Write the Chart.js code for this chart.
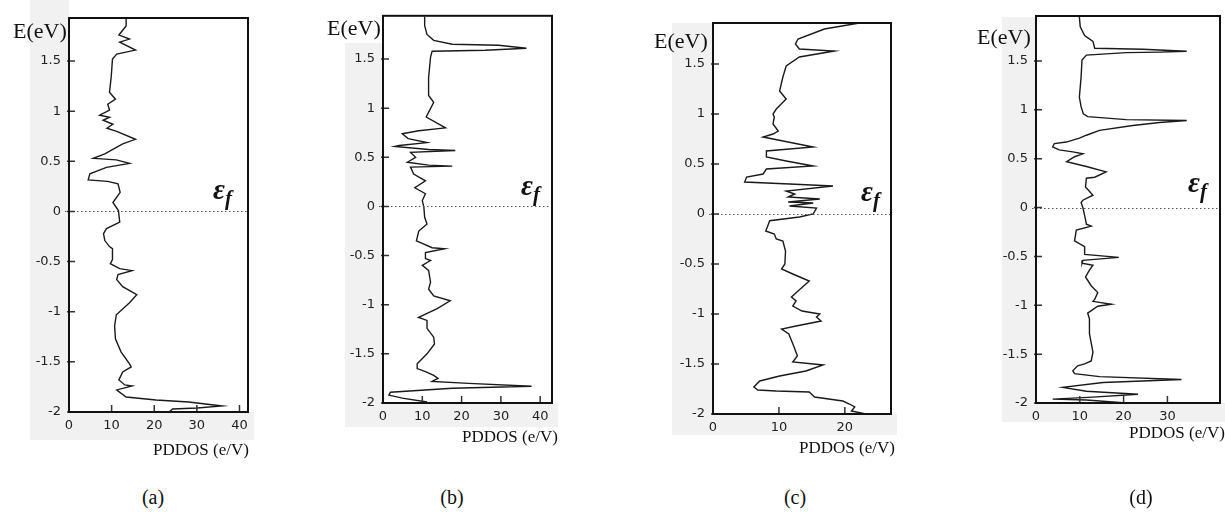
<!DOCTYPE html>
<html lang="en">
<head>
<meta charset="UTF-8">
<title>PDDOS panels</title>
<script src="https://cdn.jsdelivr.net/npm/chart.js"></script>
<style>
  body { margin: 0; background: #fff; }
  #page { position: relative; width: 1225px; height: 513px; overflow: hidden; font-family: "Liberation Serif", "DejaVu Serif", serif; color: #111; }
  .col { position: absolute; top: 0; }
  .txt { position: absolute; white-space: nowrap; line-height: 1; }
  .elabel { font-size: 22px; }
  .xlabel { font-size: 17px; }
  .tag { font-size: 20px; transform: translateX(-50%); }
  .ef { font-size: 29px; font-weight: bold; font-style: italic; }
  .ef span { font-size: 21px; position: relative; top: 6px; }
</style>
</head>
<body>
<div id="page">
  <div class="col" style="left:0px"><canvas id="chartA" width="310" height="470"></canvas></div>
  <div class="col" style="left:310px"><canvas id="chartB" width="320" height="470"></canvas></div>
  <div class="col" style="left:630px"><canvas id="chartC" width="320" height="470"></canvas></div>
  <div class="col" style="left:950px"><canvas id="chartD" width="275" height="470"></canvas></div>

  <div class="txt elabel" style="left:13px;top:20px">E(eV)</div>
  <div class="txt elabel" style="left:327px;top:17px">E(eV)</div>
  <div class="txt elabel" style="left:654px;top:30px">E(eV)</div>
  <div class="txt elabel" style="left:977px;top:26px">E(eV)</div>

  <div class="txt ef" style="left:213px;top:175px">ε<span>f</span></div>
  <div class="txt ef" style="left:521px;top:171px">ε<span>f</span></div>
  <div class="txt ef" style="left:861px;top:177px">ε<span>f</span></div>
  <div class="txt ef" style="left:1188px;top:168px">ε<span>f</span></div>

  <div class="txt xlabel" style="left:153px;top:441px">PDDOS (e/V)</div>
  <div class="txt xlabel" style="left:462px;top:428px">PDDOS (e/V)</div>
  <div class="txt xlabel" style="left:799px;top:439px">PDDOS (e/V)</div>
  <div class="txt xlabel" style="left:1129px;top:424px">PDDOS (e/V)</div>

  <div class="txt tag" style="left:153px;top:487px">(a)</div>
  <div class="txt tag" style="left:452px;top:487px">(b)</div>
  <div class="txt tag" style="left:795px;top:487px">(c)</div>
  <div class="txt tag" style="left:1141px;top:487px">(d)</div>
</div>

<script>
// energy (eV) and partial DOS (e/V), top to bottom
const energyA = [1.93, 1.85, 1.76, 1.72, 1.69, 1.61, 1.57, 1.52, 1.34, 1.19, 1.12, 1.07, 1.01, 0.96, 0.94, 0.91, 0.87, 0.83, 0.80, 0.72, 0.675, 0.575, 0.53, 0.515, 0.48, 0.44, 0.375, 0.315, 0.30, 0.275, 0.19, 0.09, 0.01, -0.105, -0.17, -0.22, -0.29, -0.35, -0.37, -0.48, -0.52, -0.57, -0.59, -0.63, -0.68, -0.75, -0.83, -0.91, -1.03, -1.14, -1.27, -1.40, -1.52, -1.55, -1.60, -1.68, -1.73, -1.74, -1.78, -1.85, -1.88, -1.90, -1.92, -1.94, -1.96, -1.97, -2.0];
const dosA = [13.4, 13.4, 11.7, 14.2, 11.9, 15.6, 11.2, 10.2, 9.9, 9.5, 10.9, 9.1, 9.5, 7.2, 9.5, 8.0, 10.3, 8.9, 11.2, 15.6, 12.6, 8.4, 5.7, 11.1, 14.2, 8.8, 4.9, 4.5, 9.1, 11.5, 12.0, 10.3, 11.6, 11.9, 8.8, 8.1, 8.4, 9.5, 10.2, 10.2, 9.7, 11.9, 14.8, 11.5, 11.2, 12.6, 15.9, 14.2, 11.1, 10.7, 10.9, 12.2, 14.2, 14.6, 12.6, 11.7, 13.1, 14.8, 11.2, 13.4, 20.4, 28.1, 32.0, 35.9, 30.1, 24.3, 23.5];

const energyB = [1.93, 1.84, 1.75, 1.69, 1.65, 1.64, 1.61, 1.59, 1.58, 1.52, 1.31, 1.13, 1.06, 0.91, 0.80, 0.77, 0.74, 0.69, 0.65, 0.62, 0.61, 0.58, 0.57, 0.55, 0.50, 0.45, 0.42, 0.41, 0.40, 0.33, 0.26, 0.19, 0.13, 0.06, -0.01, -0.11, -0.18, -0.25, -0.35, -0.42, -0.43, -0.47, -0.53, -0.55, -0.60, -0.65, -0.77, -0.84, -0.91, -0.96, -1.04, -1.11, -1.13, -1.16, -1.24, -1.33, -1.40, -1.50, -1.60, -1.65, -1.68, -1.72, -1.75, -1.78, -1.80, -1.83, -1.85, -1.89, -1.92, -1.95, -1.99];
const dosB = [10.6, 10.6, 11.2, 12.9, 17.6, 29.4, 36.5, 26.0, 12.5, 12.1, 11.6, 11.6, 12.9, 11.0, 15.9, 9.1, 4.9, 6.4, 11.2, 4.1, 3.0, 11.6, 18.4, 7.0, 8.3, 6.2, 11.6, 17.6, 7.0, 7.8, 10.8, 8.1, 10.8, 10.0, 10.4, 10.6, 11.2, 9.1, 8.5, 12.5, 15.7, 10.8, 10.8, 12.1, 10.0, 11.6, 12.1, 11.6, 12.9, 17.1, 13.8, 10.0, 9.0, 11.2, 11.2, 12.9, 13.1, 11.2, 8.7, 8.7, 10.8, 12.9, 14.0, 12.5, 21.8, 37.8, 17.6, 1.9, 1.5, 4.9, 11.2];

const energyC = [1.91, 1.85, 1.75, 1.70, 1.65, 1.63, 1.57, 1.48, 1.37, 1.23, 1.15, 1.05, 1.00, 0.97, 0.90, 0.83, 0.80, 0.77, 0.67, 0.63, 0.57, 0.53, 0.48, 0.45, 0.40, 0.37, 0.32, 0.30, 0.28, 0.23, 0.20, 0.17, 0.15, 0.12, 0.11, 0.08, 0.06, 0.0, -0.03, -0.067, -0.12, -0.17, -0.20, -0.25, -0.27, -0.37, -0.50, -0.55, -0.60, -0.67, -0.77, -0.83, -0.87, -0.92, -0.97, -1.0, -1.03, -1.07, -1.12, -1.15, -1.20, -1.33, -1.42, -1.48, -1.51, -1.57, -1.62, -1.67, -1.73, -1.76, -1.77, -1.78, -1.83, -1.87, -1.90, -1.93, -1.97, -2.0];
const dosC = [22.2, 16.9, 12.9, 12.5, 13.1, 18.4, 13.1, 11.1, 10.6, 10.1, 11.1, 9.6, 9.1, 9.3, 9.1, 9.9, 9.1, 7.6, 15.2, 8.1, 8.1, 11.1, 15.2, 8.1, 7.6, 5.1, 4.8, 11.6, 18.2, 11.1, 12.4, 11.4, 16.2, 11.4, 15.2, 11.6, 15.7, 15.2, 13.1, 8.6, 8.3, 8.0, 9.3, 9.6, 10.6, 11.0, 10.9, 10.4, 12.1, 14.6, 12.9, 11.9, 12.6, 12.1, 13.5, 16.2, 15.7, 16.4, 12.6, 10.4, 11.5, 12.3, 12.8, 12.1, 16.7, 14.1, 10.1, 7.1, 6.2, 6.8, 9.6, 14.6, 15.4, 19.7, 20.7, 21.5, 21.0, 23.2];

const energyD = [1.95, 1.85, 1.76, 1.70, 1.63, 1.62, 1.60, 1.59, 1.585, 1.56, 1.51, 1.34, 1.13, 1.03, 0.96, 0.93, 0.90, 0.89, 0.87, 0.84, 0.79, 0.74, 0.71, 0.67, 0.655, 0.62, 0.59, 0.57, 0.55, 0.52, 0.47, 0.42, 0.365, 0.31, 0.30, 0.21, 0.126, 0.075, 0.05, 0.0, -0.08, -0.17, -0.19, -0.23, -0.34, -0.40, -0.48, -0.51, -0.54, -0.57, -0.59, -0.64, -0.71, -0.80, -0.87, -0.94, -0.96, -0.99, -1.01, -1.08, -1.14, -1.29, -1.48, -1.57, -1.60, -1.62, -1.67, -1.70, -1.73, -1.76, -1.79, -1.84, -1.88, -1.91, -1.94, -1.96, -1.97, -2.0];
const dosD = [9.9, 10.1, 11.1, 13.0, 13.4, 24.4, 34.4, 28.2, 20.6, 11.5, 10.5, 10.3, 9.9, 10.3, 10.8, 11.8, 20.6, 34.4, 28.2, 22.1, 14.5, 11.5, 9.9, 6.9, 4.2, 3.8, 5.3, 8.4, 10.7, 8.8, 7.0, 11.5, 16.0, 13.4, 11.5, 11.3, 13.0, 10.7, 10.3, 10.7, 11.1, 11.5, 12.6, 9.2, 8.8, 11.1, 11.1, 18.9, 10.7, 10.5, 13.0, 12.2, 11.3, 12.6, 14.1, 13.4, 13.0, 17.2, 14.1, 11.8, 12.2, 12.2, 13.0, 12.6, 11.1, 9.5, 8.4, 8.8, 14.5, 33.2, 15.3, 6.1, 11.5, 23.3, 13.0, 3.8, 11.5, 20.6];

const energyTicks = [-2, -1.5, -1, -0.5, 0, 0.5, 1, 1.5];
const dosTicksA = [0, 10, 20, 30, 40];
const dosTicksB = [0, 10, 20, 30, 40];
const dosTicksC = [0, 10, 20];
const dosTicksD = [0, 10, 20, 30];

// grey backing, zero line, inward ticks and box frame
const framePlugin = {
    id: 'frame',
    beforeDraw(chart, args, opts) {
        const { ctx, chartArea: a } = chart;
        ctx.save();
        ctx.fillStyle = '#f1f1f1';
        ctx.fillRect(opts.greyLeft, opts.greyTop, a.left - opts.greyLeft, opts.greyBottom - opts.greyTop);
        ctx.fillRect(a.left, a.bottom, a.right + 6 - a.left, opts.greyBottom - a.bottom);
        ctx.fillStyle = '#fff';
        ctx.fillRect(a.left, a.top, a.right - a.left, a.bottom - a.top);
        ctx.restore();
    },
    afterDraw(chart) {
        const { ctx, chartArea: a, scales } = chart;
        const x = scales.x, y = scales.y;
        ctx.save();
        // Fermi level
        const y0 = Math.round(y.getPixelForValue(0)) + 0.5;
        ctx.strokeStyle = '#555';
        ctx.lineWidth = 1.2;
        ctx.setLineDash([1.5, 2.5]);
        ctx.beginPath();
        ctx.moveTo(a.left - 4, y0);
        ctx.lineTo(a.right, y0);
        ctx.stroke();
        ctx.setLineDash([]);
        // inward ticks
        ctx.strokeStyle = '#333';
        ctx.lineWidth = 1.5;
        ctx.beginPath();
        y.ticks.forEach(t => {
            const py = y.getPixelForValue(t.value);
            ctx.moveTo(a.left - 2, py);
            ctx.lineTo(a.left + 6, py);
        });
        x.ticks.forEach(t => {
            const px = x.getPixelForValue(t.value);
            ctx.moveTo(px, a.bottom);
            ctx.lineTo(px, a.bottom - 7);
        });
        ctx.stroke();
        // box
        ctx.strokeStyle = '#111';
        ctx.lineWidth = 2;
        ctx.strokeRect(a.left, a.top, a.right - a.left, a.bottom - a.top);
        ctx.restore();
    }
};

function makePanel(id, energy, dos, dosTicks, xMax, yMax, pad, grey) {
    const points = dos.map((d, i) => ({ x: d, y: energy[i] }));
    return new Chart(document.getElementById(id), {
        type: 'scatter',
        data: {
            datasets: [{
                data: points,
                showLine: true,
                borderColor: '#1a1a1a',
                borderWidth: 1.4,
                pointRadius: 0,
                tension: 0
            }]
        },
        options: {
            responsive: false,
            animation: false,
            layout: { padding: pad },
            plugins: {
                legend: { display: false },
                tooltip: { enabled: false },
                frame: grey
            },
            scales: {
                x: {
                    type: 'linear',
                    min: 0,
                    max: xMax,
                    afterFit: s => { s.height = 30; },
                    afterBuildTicks: s => { s.ticks = dosTicks.map(v => ({ value: v })); },
                    grid: { display: false, drawTicks: false },
                    border: { display: false },
                    ticks: { padding: 6, color: '#222', font: { family: 'DejaVu Sans', size: 13 }, maxRotation: 0 }
                },
                y: {
                    type: 'linear',
                    min: -2,
                    max: yMax,
                    afterFit: s => { s.width = 40; },
                    afterBuildTicks: s => { s.ticks = energyTicks.map(v => ({ value: v })); },
                    grid: { display: false, drawTicks: false },
                    border: { display: false },
                    ticks: { padding: 8, color: '#222', font: { family: 'DejaVu Sans', size: 13 }, callback: v => String(v) }
                }
            }
        },
        plugins: [framePlugin]
    });
}

makePanel('chartA', energyA, dosA, dosTicksA, 42, 1.93,
    { left: 29, right: 62, top: 18, bottom: 28 },
    { greyLeft: 30, greyTop: 0, greyBottom: 440 });
makePanel('chartB', energyB, dosB, dosTicksB, 43, 1.94,
    { left: 33, right: 78, top: 15, bottom: 37 },
    { greyLeft: 35, greyTop: 43, greyBottom: 427 });
makePanel('chartC', energyC, dosC, dosTicksC, 27, 1.91,
    { left: 43, right: 59, top: 23, bottom: 26 },
    { greyLeft: 42, greyTop: 23, greyBottom: 435 });
makePanel('chartD', energyD, dosD, dosTicksD, 42, 1.96,
    { left: 46, right: 5, top: 16, bottom: 37 },
    { greyLeft: 52, greyTop: 17, greyBottom: 422 });
</script>
</body>
</html>
